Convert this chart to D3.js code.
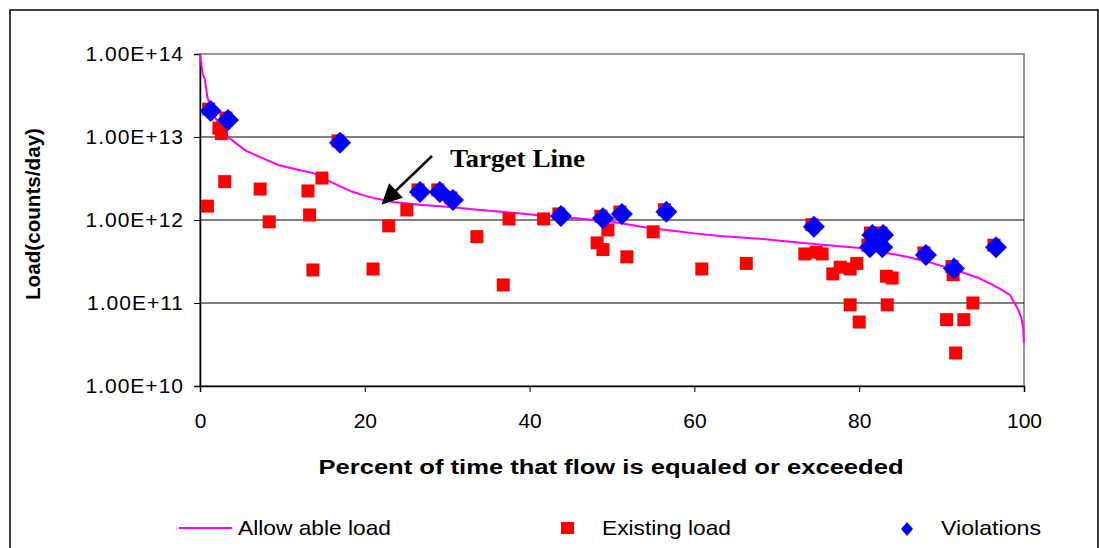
<!DOCTYPE html>
<html>
<head>
<meta charset="utf-8">
<script src="https://cdn.jsdelivr.net/npm/d3@7"></script>
<style>
  body { margin: 0; background: #fff; }
  svg { display: block; font-family: Arial, "Liberation Sans", sans-serif; }
</style>
</head>
<body>
<svg width="1099" height="548"></svg>
<script>
// allowable load (flow duration curve)
const allowPct = [0, 0.1, 0.3, 0.6, 0.9, 1.8, 3.4, 5.5, 7.5, 9.5, 12, 13.7, 15.8, 18.4, 20.5, 23.4, 27, 30, 34, 38, 42, 46, 50, 51.8, 54.5, 57.4, 60, 63.1, 68.3, 73.2, 80.1, 85.8, 89, 92.2, 94.5, 96.2, 97.5, 98.3, 99.3, 99.7, 99.9, 100];
const allowLoad = [1e14, 8.5e13, 5.9e13, 4.9e13, 3.0e13, 1.74e13, 1.0e13, 6.9e12, 5.6e12, 4.6e12, 4.0e12, 3.7e12, 2.9e12, 2.2e12, 1.9e12, 1.65e12, 1.52e12, 1.44e12, 1.32e12, 1.22e12, 1.12e12, 1.04e12, 9.5e11, 8.9e11, 8.0e11, 7.4e11, 6.9e11, 6.4e11, 5.9e11, 5.3e11, 4.6e11, 3.6e11, 3.0e11, 2.4e11, 2.0e11, 1.65e11, 1.4e11, 1.25e11, 8.3e10, 6.5e10, 5.1e10, 3.3e10];

// existing load samples
const existPct = [0.9, 2.3, 2.6, 3.0, 7.3, 8.4, 13.1, 13.3, 13.7, 14.8, 21.0, 22.9, 25.1, 33.6, 36.8, 37.5, 41.7, 48.2, 48.9, 49.5, 51.8, 55.0, 60.9, 66.3, 73.4, 74.8, 75.5, 76.8, 77.7, 78.9, 79.7, 78.9, 80.0, 83.3, 84.0, 83.4, 91.4, 93.8, 90.6, 92.7, 91.7];
const existLoad = [1.47e12, 1.28e13, 1.1e13, 2.9e12, 2.36e12, 9.5e11, 2.24e12, 1.15e12, 2.5e11, 3.2e12, 2.57e11, 8.5e11, 1.32e12, 6.3e11, 1.65e11, 1.03e12, 1.03e12, 5.3e11, 4.4e11, 7.6e11, 3.6e11, 7.2e11, 2.57e11, 3.0e11, 3.9e11, 4.1e11, 3.9e11, 2.24e11, 2.7e11, 2.57e11, 3.0e11, 9.5e10, 5.9e10, 2.1e11, 2.0e11, 9.5e10, 2.2e11, 1.0e11, 6.3e10, 6.3e10, 2.5e10];

// samples above the allowable load
const violPct = [1.3, 3.4, 17.0, 26.7, 29.1, 30.7, 43.8, 48.9, 51.2, 56.6, 74.5, 81.6, 82.9, 81.3, 82.8, 88.1, 91.5, 96.6];
const violLoad = [2.05e13, 1.6e13, 8.5e12, 2.18e12, 2.18e12, 1.74e12, 1.12e12, 1.05e12, 1.18e12, 1.26e12, 8.3e11, 6.6e11, 6.6e11, 4.7e11, 4.7e11, 3.8e11, 2.6e11, 4.7e11];

const xTicks = [0, 20, 40, 60, 80, 100];
const yTicks = [1e10, 1e11, 1e12, 1e13, 1e14];

const svg = d3.select('svg');

// outer chart frame
svg.append('rect')
    .attr('x', 10).attr('y', 10)
    .attr('width', 1088).attr('height', 560)
    .attr('fill', 'none').attr('stroke', '#000').attr('stroke-width', 1.5);

const pLeft = 200, pRight = 1024, pTop = 54, pBottom = 386;

const x = d3.scaleLinear().domain([0, 100]).range([pLeft, pRight]);
const y = d3.scaleLog().domain([1e10, 1e14]).range([pBottom, pTop]);

// plot area border (gray)
svg.append('rect')
    .attr('x', pLeft).attr('y', pTop)
    .attr('width', pRight - pLeft).attr('height', pBottom - pTop)
    .attr('fill', 'none').attr('stroke', '#999').attr('stroke-width', 2);

// gridlines
svg.append('g')
    .selectAll('line')
    .data(yTicks.slice(1, 4))
    .enter()
    .append('line')
    .attr('x1', pLeft).attr('x2', pRight)
    .attr('y1', d => y(d)).attr('y2', d => y(d))
    .attr('stroke', '#000').attr('stroke-width', 1);

// axes
const yAxis = svg.append('g')
    .attr('transform', `translate(${pLeft},0)`)
    .call(d3.axisLeft(y).tickValues(yTicks).tickSize(6).tickPadding(10)
        .tickFormat(d => '1.00E+' + Math.round(Math.log10(d))));
const xAxis = svg.append('g')
    .attr('transform', `translate(0,${pBottom})`)
    .call(d3.axisBottom(x).tickValues(xTicks).tickSize(6).tickPadding(21));

[yAxis, xAxis].forEach(a => {
    a.select('.domain').attr('stroke', '#000').attr('stroke-width', 1.5);
    a.selectAll('.tick line').attr('stroke', '#000');
    a.selectAll('.tick text')
        .attr('font-family', 'Arial, "Liberation Sans", sans-serif')
        .attr('font-size', 21).attr('fill', '#000');
});
yAxis.selectAll('.tick text').attr('letter-spacing', 1);

// allowable line
const line = d3.line()
    .x((d, i) => x(allowPct[i]))
    .y(d => y(d));
svg.append('path')
    .datum(allowLoad)
    .attr('d', line)
    .attr('fill', 'none')
    .attr('stroke', '#ff00ff')
    .attr('stroke-width', 2);

// existing load squares
const sq = 13;
svg.append('g')
    .selectAll('rect')
    .data(existLoad)
    .enter()
    .append('rect')
    .attr('x', (d, i) => x(existPct[i]) - sq / 2)
    .attr('y', d => y(d) - sq / 2)
    .attr('width', sq).attr('height', sq)
    .attr('fill', '#ff0000');

// red squares under each violation
svg.append('g')
    .selectAll('rect')
    .data(violLoad)
    .enter()
    .append('rect')
    .attr('x', (d, i) => x(violPct[i]) - sq / 2 - 2)
    .attr('y', d => y(d) - sq / 2 - 2)
    .attr('width', sq).attr('height', sq)
    .attr('fill', '#ff0000');

// violation diamonds
const diamond = r => `M0,${-r}L${r},0L0,${r}L${-r},0Z`;
svg.append('g')
    .selectAll('path')
    .data(violLoad)
    .enter()
    .append('path')
    .attr('transform', (d, i) => `translate(${x(violPct[i])},${y(d)})`)
    .attr('d', diamond(11))
    .attr('fill', '#0000ff');

// annotation arrow
svg.append('defs').append('marker')
    .attr('id', 'head')
    .attr('viewBox', '0 0 10 10')
    .attr('refX', 9).attr('refY', 5)
    .attr('markerWidth', 9).attr('markerHeight', 8)
    .attr('markerUnits', 'strokeWidth')
    .attr('orient', 'auto')
    .append('path').attr('d', 'M0,0L10,5L0,10Z').attr('fill', '#000');
svg.append('line')
    .attr('x1', 432).attr('y1', 156)
    .attr('x2', 383).attr('y2', 203)
    .attr('stroke', '#000').attr('stroke-width', 2.5)
    .attr('marker-end', 'url(#head)');
svg.append('text')
    .attr('x', 450).attr('y', 167)
    .attr('font-family', '"Liberation Serif", "Times New Roman", serif')
    .attr('font-weight', 'bold').attr('font-size', 26)
    .attr('textLength', 135).attr('lengthAdjust', 'spacingAndGlyphs')
    .text('Target Line');

// axis titles
svg.append('text')
    .attr('transform', 'translate(40,214) rotate(-90)')
    .attr('text-anchor', 'middle')
    .attr('font-weight', 'bold').attr('font-size', 21)
    .attr('textLength', 172).attr('lengthAdjust', 'spacingAndGlyphs')
    .text('Load(counts/day)');
svg.append('text')
    .attr('x', 611).attr('y', 474)
    .attr('text-anchor', 'middle')
    .attr('font-weight', 'bold').attr('font-size', 21)
    .attr('textLength', 585).attr('lengthAdjust', 'spacingAndGlyphs')
    .text('Percent of time that flow is equaled or exceeded');

// legend
const ly = 528;
const legend = svg.append('g').attr('font-size', 21);
legend.append('line')
    .attr('x1', 179).attr('x2', 232).attr('y1', ly).attr('y2', ly)
    .attr('stroke', '#ff00ff').attr('stroke-width', 2);
legend.append('text').attr('x', 238).attr('y', ly + 7)
    .attr('textLength', 153).attr('lengthAdjust', 'spacingAndGlyphs')
    .text('Allow able load');
legend.append('rect')
    .attr('x', 561).attr('y', ly - 6).attr('width', 13).attr('height', 12)
    .attr('fill', '#ff0000');
legend.append('text').attr('x', 602).attr('y', ly + 7)
    .attr('textLength', 129).attr('lengthAdjust', 'spacingAndGlyphs')
    .text('Existing load');
legend.append('path')
    .attr('transform', `translate(907,${ly + 1})`)
    .attr('d', 'M0,-7L6,0L0,7L-6,0Z')
    .attr('fill', '#0000ff');
legend.append('text').attr('x', 941).attr('y', ly + 7)
    .attr('textLength', 100).attr('lengthAdjust', 'spacingAndGlyphs')
    .text('Violations');
</script>
</body>
</html>
